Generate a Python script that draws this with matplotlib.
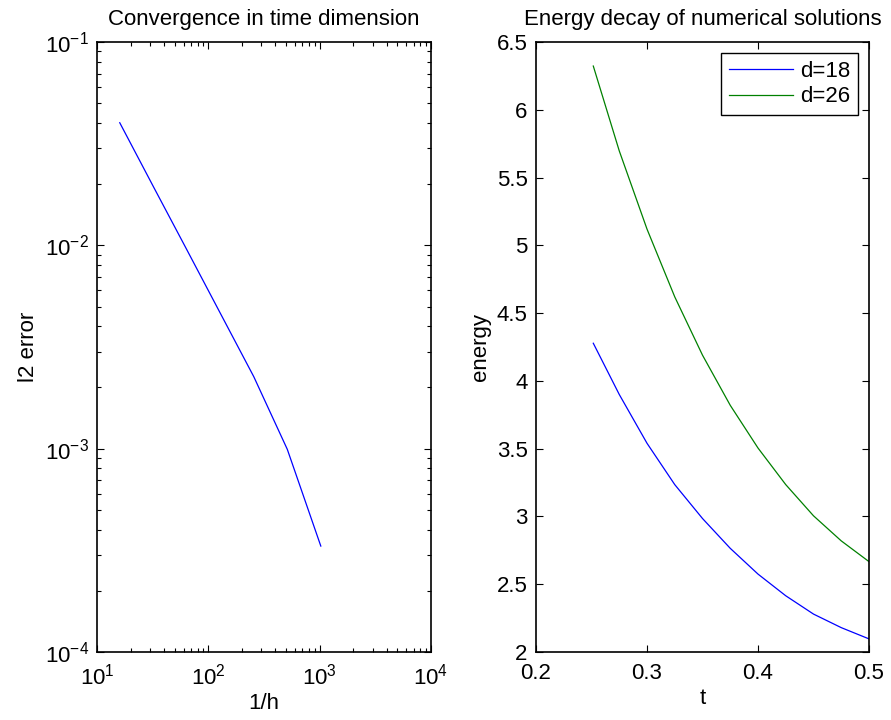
import matplotlib
matplotlib.use("Agg")
import matplotlib.pyplot as plt
from matplotlib.ticker import LogLocator, FixedLocator, FuncFormatter, NullFormatter

plt.rcParams['font.family'] = ['Liberation Sans', 'DejaVu Sans']
plt.rcParams['mathtext.fontset'] = 'custom'
plt.rcParams['mathtext.rm'] = 'Liberation Sans'
plt.rcParams['mathtext.it'] = 'Liberation Sans:italic'

# Left panel data: convergence in time
inv_h = [16, 32, 64, 128, 256, 512, 1024]
l2_error = [0.0401, 0.0195, 0.00953, 0.00464, 0.00226, 0.000993, 0.000332]

# Right panel data: energy decay
t_vals = [0.2516, 0.275, 0.300, 0.325, 0.350, 0.375, 0.400, 0.425, 0.450, 0.475, 0.500]
e_d18 = [4.278, 3.900, 3.540, 3.235, 2.985, 2.765, 2.575, 2.415, 2.280, 2.180, 2.097]
e_d26 = [6.323, 5.697, 5.120, 4.620, 4.190, 3.820, 3.505, 3.235, 3.005, 2.820, 2.667]
legend_labels = ["d=18", "d=26"]

fig = plt.figure(figsize=(8.91, 7.2), dpi=100)
ax1 = fig.add_axes([0.1089, 0.0944, 0.3748, 0.8472])
ax2 = fig.add_axes([0.6016, 0.0944, 0.3737, 0.8472])

FS = 16

# Left
ax1.loglog(inv_h, l2_error, color=(0, 0, 1), lw=0.9)
ax1.set_xlim(10, 1e4)
ax1.set_ylim(1e-4, 1e-1)
ax1.xaxis.set_major_locator(LogLocator(base=10, numticks=10))
ax1.yaxis.set_major_locator(LogLocator(base=10, numticks=10))
ax1.xaxis.set_minor_locator(LogLocator(base=10, subs=range(2, 10), numticks=20))
ax1.yaxis.set_minor_locator(LogLocator(base=10, subs=range(2, 10), numticks=20))
ax1.xaxis.set_minor_formatter(NullFormatter())
ax1.yaxis.set_minor_formatter(NullFormatter())
ax1.set_title("Convergence in time dimension", fontsize=FS, pad=12)
ax1.set_xlabel("1/h", fontsize=FS, labelpad=3)
ax1.set_ylabel("l2 error", fontsize=FS, labelpad=4)

# Right
ax2.plot(t_vals, e_d18, color=(0, 0, 1), lw=0.9, label=legend_labels[0])
ax2.plot(t_vals, e_d26, color=(0, 0.5, 0), lw=0.9, label=legend_labels[1])
ax2.set_xlim(0.2, 0.5)
ax2.set_ylim(2, 6.5)
ax2.xaxis.set_major_locator(FixedLocator([0.2, 0.3, 0.4, 0.5]))
ax2.yaxis.set_major_locator(FixedLocator([2, 2.5, 3, 3.5, 4, 4.5, 5, 5.5, 6, 6.5]))
ax2.xaxis.set_major_formatter(FuncFormatter(lambda v, p: "%g" % v))
ax2.yaxis.set_major_formatter(FuncFormatter(lambda v, p: "%g" % v))
ax2.set_title("Energy decay of numerical solutions", fontsize=FS, pad=12)
ax2.set_xlabel("t", fontsize=FS, labelpad=3)
ax2.set_ylabel("energy", fontsize=FS, labelpad=4)
leg = ax2.legend(loc="upper right", fontsize=FS, fancybox=False, framealpha=1,
                 edgecolor="black", handlelength=2.9, borderaxespad=0.5,
                 handletextpad=0.3, labelspacing=0.2, borderpad=0.35)
leg.get_frame().set_linewidth(1.0)

for ax in (ax1, ax2):
    for s in ax.spines.values():
        s.set_linewidth(1.2)
    ax.tick_params(which='both', direction='in', top=True, right=True,
                   labelsize=FS, width=0.8)
    ax.tick_params(which='major', length=5)
    ax.tick_params(which='minor', length=3)
    ax.tick_params(axis='x', which='major', pad=8)
    ax.tick_params(axis='y', which='major', pad=6)

fig.savefig("out.png", dpi=100)
